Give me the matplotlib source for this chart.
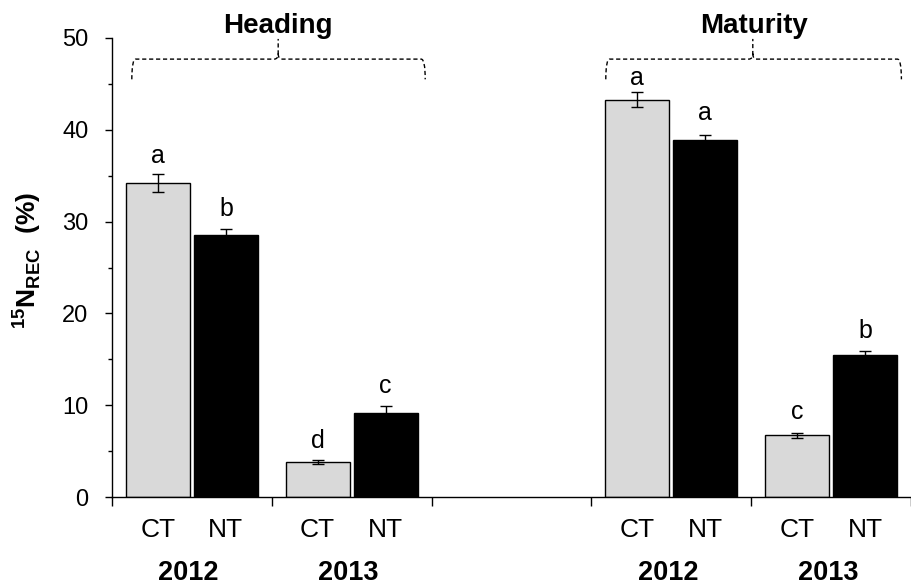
import matplotlib
matplotlib.use("Agg")
import matplotlib.pyplot as plt
import numpy as np
from matplotlib.path import Path
from matplotlib.patches import PathPatch
from matplotlib.ticker import MultipleLocator
import matplotlib.transforms as mtransforms

plt.rcParams["font.family"] = ["Liberation Sans", "DejaVu Sans"]
plt.rcParams["mathtext.fontset"] = "custom"
plt.rcParams["mathtext.rm"] = "Liberation Sans"
plt.rcParams["mathtext.bf"] = "Liberation Sans:bold"

# order of groups: Heading 2012, Heading 2013, Maturity 2012, Maturity 2013
STAGES = ["Heading", "Maturity"]
YEARS = ["2012", "2013", "2012", "2013"]
TILLAGE = ["CT", "NT"]

CT_VALUES = [34.2, 3.8, 43.3, 6.7]
NT_VALUES = [28.5, 9.2, 38.9, 15.5]
CT_SE = [0.95, 0.2, 0.85, 0.25]
NT_SE = [0.7, 0.7, 0.5, 0.35]
CT_LETTERS = ["a", "d", "a", "c"]
NT_LETTERS = ["b", "c", "a", "b"]

# gap between error bar top and letter baseline (data units)
CT_GAP = [1.2, 1.38, 0.73, 1.52]
NT_GAP = [1.37, 1.38, 1.63, 1.5]

group_x = np.array([0.5, 1.5, 3.5, 4.5])
offset = 0.213
width = 0.40

fig = plt.figure(figsize=(9.11, 5.88), dpi=100)
ax = fig.add_axes([112 / 911, 91 / 588, 1 - 112 / 911, 459 / 588])

ct_x = group_x - offset
nt_x = group_x + offset

ax.bar(ct_x, CT_VALUES, width, color="#d9d9d9", edgecolor="black", linewidth=1.0, zorder=2)
ax.bar(nt_x, NT_VALUES, width, color="black", edgecolor="black", linewidth=1.0, zorder=2)
ax.errorbar(ct_x, CT_VALUES, yerr=CT_SE, fmt="none", ecolor="black",
            elinewidth=1.0, capsize=4, capthick=1.0, zorder=3)
ax.errorbar(nt_x, NT_VALUES, yerr=NT_SE, fmt="none", ecolor="black",
            elinewidth=1.0, capsize=4, capthick=1.0, zorder=3)

for xs, vals, errs, letters, gaps in [
    (ct_x, CT_VALUES, CT_SE, CT_LETTERS, CT_GAP),
    (nt_x, NT_VALUES, NT_SE, NT_LETTERS, NT_GAP),
]:
    for x, v, e, lt, g in zip(xs, vals, errs, letters, gaps):
        ax.text(x, v + e + g, lt, ha="center", va="baseline", fontsize=18)

ax.set_xlim(0, 4.963)
ax.set_ylim(0, 50)
ax.spines["top"].set_visible(False)
ax.spines["right"].set_visible(False)
ax.spines["left"].set_linewidth(1.0)
ax.spines["bottom"].set_linewidth(1.0)

ax.set_xticks(np.arange(0, 6))
ax.set_xticklabels([])
ax.tick_params(axis="x", direction="out", length=6.5, width=1.0)
ax.yaxis.set_major_locator(MultipleLocator(10))
ax.yaxis.set_minor_locator(MultipleLocator(5))
ax.tick_params(axis="y", which="major", direction="out", length=5, width=1.0,
               labelsize=17, pad=12)
ax.tick_params(axis="y", which="minor", direction="out", length=3, width=1.0)

# tillage and year labels under the axis
trans = mtransforms.blended_transform_factory(ax.transData, ax.transAxes)
for x in ct_x:
    ax.text(x, -0.072, TILLAGE[0], ha="center", va="center", fontsize=19, transform=trans)
for x in nt_x:
    ax.text(x, -0.072, TILLAGE[1], ha="center", va="center", fontsize=19, transform=trans)
for x, yr in zip(group_x, YEARS):
    ax.text(x - 0.02, -0.166, yr, ha="center", va="center", fontsize=19.5,
            fontweight="bold", transform=trans)

ax.set_ylabel(r"$^{\mathbf{15}}\mathbf{N}_{\mathbf{REC}}$  (%)", fontsize=19, fontweight="bold")
ax.yaxis.set_label_coords(-0.086, 0.516)


def draw_brace(x0, x1, xc, y_low, y_mid, y_top):
    dx = 0.025
    dy = 0.6
    verts = [
        (x0, y_low), (x0, y_mid), (x0 + dx, y_mid),
        (xc - dx, y_mid), (xc, y_mid), (xc, y_mid + dy),
        (xc, y_top),
        (xc, y_mid + dy), (xc, y_mid), (xc + dx, y_mid),
        (x1 - dx, y_mid), (x1, y_mid), (x1, y_low),
    ]
    codes = [
        Path.MOVETO, Path.CURVE3, Path.CURVE3,
        Path.LINETO, Path.CURVE3, Path.CURVE3,
        Path.LINETO,
        Path.MOVETO, Path.CURVE3, Path.CURVE3,
        Path.LINETO, Path.CURVE3, Path.CURVE3,
    ]
    patch = PathPatch(Path(verts, codes), fill=False, edgecolor="black",
                      linewidth=1.0, linestyle=(0, (3, 2)), clip_on=False)
    ax.add_patch(patch)


draw_brace(0.124, 1.96, 1.04, 45.5, 47.7, 49.9)
draw_brace(3.09, 4.94, 4.01, 45.5, 47.7, 49.9)

ax.text(1.04, 1.011, STAGES[0], ha="center", va="baseline", fontsize=20,
        fontweight="bold", transform=trans)
ax.text(4.02, 1.011, STAGES[1], ha="center", va="baseline", fontsize=20,
        fontweight="bold", transform=trans)

fig.savefig("out.png", dpi=100)
